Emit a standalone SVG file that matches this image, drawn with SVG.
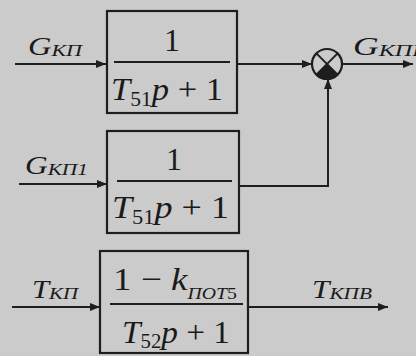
<svg xmlns="http://www.w3.org/2000/svg" width="416" height="356" viewBox="0 0 416 356">
<defs>
<style>
.ln{stroke:#1e1e1e;stroke-width:2;fill:none}
.bx{stroke:#1e1e1e;stroke-width:2.2;fill:none}
.fr{stroke:#1e1e1e;stroke-width:1.8}
.t{font-family:"Liberation Serif","Times New Roman",serif;fill:#1a1a1a}
.lab{font-size:25px;font-style:italic}
.sub{font-size:17px;font-style:italic}
.num{font-size:32px}
.it{font-style:italic}
.sm{font-size:20px}
</style>
<marker id="ah" viewBox="0 0 10 8" refX="10" refY="4" markerWidth="10" markerHeight="8" markerUnits="userSpaceOnUse" orient="auto">
<path d="M0,0 L10,4 L0,8 Z" fill="#1e1e1e"/>
</marker>
</defs>
<rect width="416" height="356" fill="#cbcbcb"/>
<g id="connectors">
<line class="ln" x1="15" y1="64" x2="106" y2="64" marker-end="url(#ah)"/>
<line class="ln" x1="237" y1="64" x2="312" y2="64" marker-end="url(#ah)"/>
<line class="ln" x1="342" y1="64" x2="413" y2="64" marker-end="url(#ah)"/>
<line class="ln" x1="19" y1="184" x2="107" y2="184" marker-end="url(#ah)"/>
<polyline class="ln" points="239,186 328,186 328,79" marker-end="url(#ah)"/>
<line class="ln" x1="12" y1="307" x2="100" y2="307" marker-end="url(#ah)"/>
<line class="ln" x1="248" y1="307" x2="388" y2="307" marker-end="url(#ah)"/>
</g>
<g id="label-gkp"><text class="t lab" x="28" y="55" textLength="54" lengthAdjust="spacingAndGlyphs">G<tspan class="sub" dy="1">КП</tspan></text></g>
<g id="label-gkp1"><text class="t lab" x="25" y="174" textLength="63" lengthAdjust="spacingAndGlyphs">G<tspan class="sub" dy="1">КП1</tspan></text></g>
<g id="label-gkpv"><text class="t lab" x="353" y="55" textLength="74" lengthAdjust="spacingAndGlyphs">G<tspan class="sub" dy="1">КПВ</tspan></text></g>
<g id="label-tkp"><text class="t lab" x="32" y="298" textLength="46" lengthAdjust="spacingAndGlyphs">T<tspan class="sub" dy="1">КП</tspan></text></g>
<g id="label-tkpv"><text class="t lab" x="312" y="298" textLength="60" lengthAdjust="spacingAndGlyphs">T<tspan class="sub" dy="1">КПВ</tspan></text></g>
<g id="block1">
<rect class="bx" x="107" y="11" width="130" height="102"/>
<line class="fr" x1="114" y1="62" x2="230" y2="62"/>
<text class="t num" x="172" y="51" text-anchor="middle">1</text>
<text class="t num" x="111" y="100" textLength="112" lengthAdjust="spacingAndGlyphs"><tspan class="it">T</tspan><tspan class="sm" dy="6">51</tspan><tspan class="it" dy="-6">p</tspan> + 1</text>
</g>
<g id="block2">
<rect class="bx" x="107" y="131" width="132" height="102"/>
<line class="fr" x1="117" y1="181" x2="232" y2="181"/>
<text class="t num" x="174" y="170" text-anchor="middle">1</text>
<text class="t num" x="112" y="218" textLength="117" lengthAdjust="spacingAndGlyphs"><tspan class="it">T</tspan><tspan class="sm" dy="6">51</tspan><tspan class="it" dy="-6">p</tspan> + 1</text>
</g>
<g id="block3">
<rect class="bx" x="100" y="251" width="148" height="102"/>
<line class="fr" x1="110" y1="304" x2="243" y2="304"/>
<text class="t num" x="113" y="290" textLength="124" lengthAdjust="spacingAndGlyphs">1 − <tspan class="it">k</tspan><tspan class="sub" dy="9">ПОТ</tspan><tspan font-size="17px">5</tspan></text>
<text class="t num" x="122" y="343" textLength="108" lengthAdjust="spacingAndGlyphs"><tspan class="it">T</tspan><tspan class="sm" dy="5">52</tspan><tspan class="it" dy="-5">p</tspan> + 1</text>
</g>
<g id="summer">
<circle cx="327" cy="64" r="15" fill="none" stroke="#1e1e1e" stroke-width="2.2"/>
<line class="ln" x1="316.4" y1="53.4" x2="337.6" y2="74.6"/>
<line class="ln" x1="337.6" y1="53.4" x2="316.4" y2="74.6"/>
<path d="M327,64 L316.4,74.6 A15,15 0 0 0 337.6,74.6 Z" fill="#1e1e1e"/>
</g>
</svg>
